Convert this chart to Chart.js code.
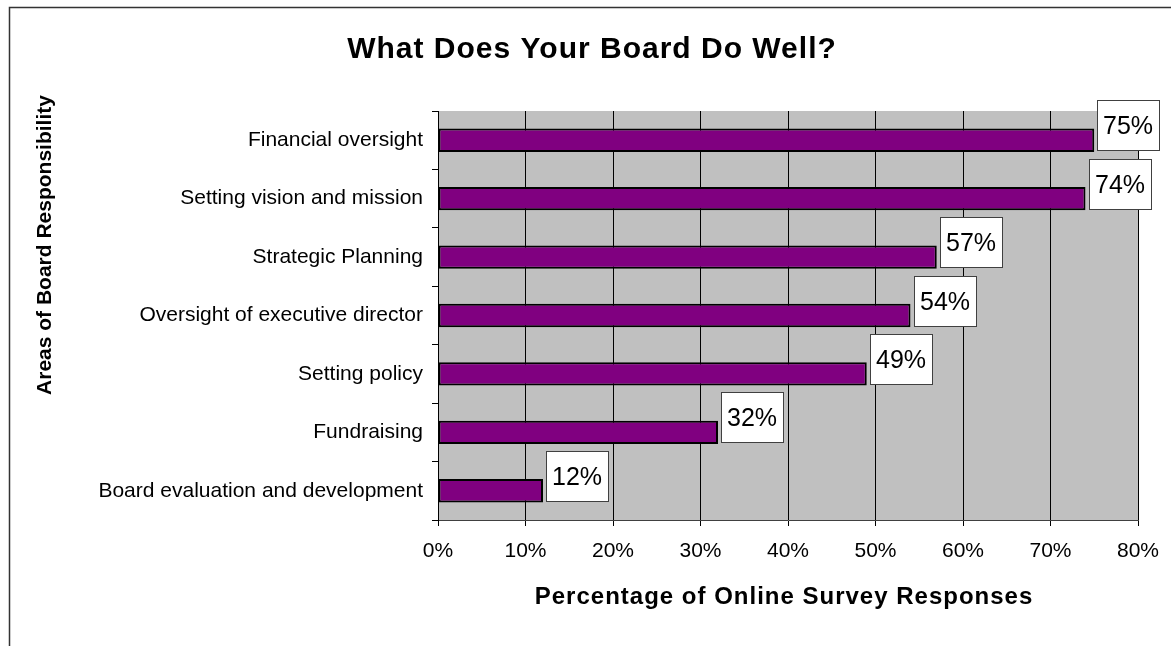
<!DOCTYPE html>
<html>
<head>
<meta charset="utf-8">
<title>What Does Your Board Do Well?</title>
<script src="https://cdn.jsdelivr.net/npm/chart.js@4.4.1/dist/chart.umd.min.js"></script>
<style>
html,body{margin:0;padding:0;background:#fff;}
canvas{display:block;}
</style>
</head>
<body>
<canvas id="boardChart" width="1171" height="646"></canvas>
<script>
// survey results, top to bottom
const areas=[
"Financial oversight",
"Setting vision and mission",
"Strategic Planning",
"Oversight of executive director",
"Setting policy",
"Fundraising",
"Board evaluation and development"
];

const shares=[75,74,57,54,49,32,12];

const pctTicks=[0,10,20,30,40,50,60,70,80];

const chartTitle="What Does Your Board Do Well?";
const xTitle="Percentage of Online Survey Responses";
const yTitle="Areas of Board Responsibility";

const FONT='"Liberation Sans", Arial, sans-serif';


// gray plot background and the outer frame
const backdrop={
id:"backdrop",
beforeDraw(chart){
const ctx=chart.ctx;
const a=chart.chartArea;
ctx.save();
ctx.fillStyle="#C0C0C0";
ctx.fillRect(a.left,a.top,a.right-a.left,a.bottom-a.top);
ctx.strokeStyle="#333";
ctx.lineWidth=1.5;
ctx.strokeRect(9.5,7.5,1200,700);
ctx.restore();
}
};


// white value boxes next to each bar end
const valueBoxes={
id:"valueBoxes",
afterDatasetsDraw(chart){
const ctx=chart.ctx;
const bars=chart.getDatasetMeta(0).data;
ctx.save();
ctx.font="25px "+FONT;
ctx.textAlign="center";
ctx.textBaseline="middle";
bars.forEach((bar,i)=>{
const left=Math.round(bar.x)+3;
const top=Math.round(bar.y)-40;
ctx.fillStyle="#fff";
ctx.fillRect(left,top,62,50);
ctx.strokeStyle="#404040";
ctx.lineWidth=1;
ctx.strokeRect(left+0.5,top+0.5,62,50);
ctx.fillStyle="#000";
ctx.fillText(shares[i]+"%",left+31,top+27);
});
ctx.restore();
}
};


// main title and both axis titles (slightly tracked out)
const titles={
id:"titles",
afterDraw(chart){
const ctx=chart.ctx;
const a=chart.chartArea;
ctx.save();
ctx.fillStyle="#000";
ctx.textAlign="center";
ctx.textBaseline="alphabetic";

ctx.letterSpacing="1px";
ctx.font="bold 30px "+FONT;
ctx.fillText(chartTitle,592,58);

ctx.font="bold 24px "+FONT;
ctx.fillText(xTitle,(a.left+a.right)/2-4,604);

ctx.letterSpacing="0px";
ctx.translate(51,245);
ctx.rotate(-Math.PI/2);
ctx.font="bold 21px "+FONT;
ctx.fillText(yTitle,0,0);
ctx.restore();
}
};


new Chart(
document.getElementById("boardChart"),
{
type:"bar",
data:{
labels:areas,
datasets:[{
data:shares,
backgroundColor:"#800080",
borderColor:"#000",
borderWidth:2,
borderSkipped:false,
barPercentage:0.4,
categoryPercentage:1
}]
},
options:{
indexAxis:"y",
responsive:false,
animation:false,
layout:{
padding:{top:111,right:33,left:0,bottom:0}
},
plugins:{
legend:{display:false},
title:{display:false},
tooltip:{enabled:false}
},
scales:{
x:{
min:0,
max:80,
afterFit(scale){
scale.height=126;
// the layout padding already leaves room for the end labels
scale.paddingLeft=0;
scale.paddingRight=0;
},
afterBuildTicks(scale){
scale.ticks=pctTicks.map(v=>({value:v}));
},
ticks:{
color:"#000",
padding:13,
font:{family:FONT,size:21},
callback:(v)=>v+"%"
},
grid:{
color:"#000",
lineWidth:1,
drawTicks:true,
tickLength:6,
tickColor:"#000"
},
border:{color:"#404040",width:1}
},
y:{
afterFit(scale){scale.width=438;},
ticks:{
color:"#000",
padding:9,
font:{family:FONT,size:21}
},
grid:{
offset:true,
drawOnChartArea:false,
drawTicks:true,
tickLength:6,
tickColor:"#000"
},
border:{color:"#000",width:1}
}
}
},
plugins:[backdrop,valueBoxes,titles]
}
);
</script>
</body>
</html>
